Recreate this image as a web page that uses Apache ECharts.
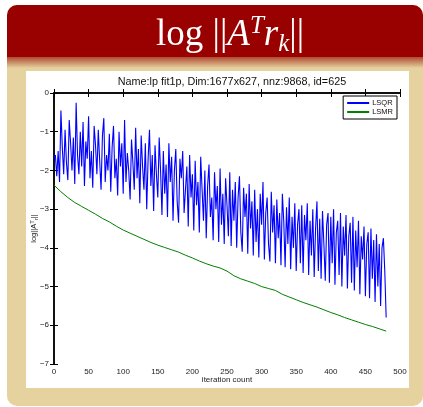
<!DOCTYPE html>
<html>
<head>
    <meta charset="utf-8">
    <title>log ||A^T r_k||</title>
    <script src="https://cdn.jsdelivr.net/npm/echarts@6/dist/echarts.min.js"></script>
    <style>
        html, body { margin: 0; padding: 0; background: #fff; }
    </style>
</head>
<body>
<div id="main" style="width: 423px;height:407px;"></div>

<script type="text/javascript">
    // LSQR: one value every 2 iterations, 0..480 (20 per row = 40 iterations)
    var lsqrStep = 2;
    var lsqr = [
        -1.7, -1.6, -2.15, -1.5, -2.3, -0.45, -1.4, -2.1, -0.95, -1.8, -2.25, -0.7, -1.3, -2.0, -1.15, -2.35, -0.25, -1.6, -2.1, -1.0,
        -1.9, -0.75, -2.4, -1.25, -1.7, -0.6, -2.2, -1.5, -2.45, -0.85, -1.35, -2.1, -0.95, -1.75, -2.5, -1.1, -0.65, -2.3, -1.6, -2.0,
        -1.05, -2.55, -1.4, -0.85, -2.2, -1.7, -2.65, -1.0, -1.9, -1.3, -2.6, -0.7, -2.3, -1.55, -2.0, -2.75, -1.2, -1.8, -2.5, -0.9,
        -2.2, -1.45, -2.85, -1.1, -1.9, -2.5, -1.3, -3.0, -1.7, -0.95, -2.4, -1.6, -3.05, -1.35, -2.1, -2.7, -1.15, -2.0, -3.15, -1.5,
        -2.6, -1.85, -3.2, -1.3, -2.3, -1.65, -3.3, -2.0, -1.45, -2.8, -3.35, -1.7, -2.2, -1.5, -3.1, -2.5, -1.9, -3.45, -1.6, -2.7,
        -2.1, -3.55, -1.75, -2.9, -2.3, -3.6, -1.65, -2.5, -3.3, -2.0, -3.75, -2.4, -1.85, -3.2, -2.7, -3.8, -2.05, -3.0, -2.4, -3.85,
        -1.95, -3.4, -2.6, -3.9, -2.2, -2.9, -3.7, -2.05, -3.95, -2.5, -3.3, -2.3, -4.0, -2.7, -2.15, -3.6, -4.1, -2.45, -3.2, -2.6,
        -4.15, -2.35, -3.5, -2.8, -4.2, -2.5, -3.85, -3.0, -4.25, -2.6, -3.4, -2.3, -4.3, -3.1, -2.7, -3.9, -4.35, -2.55, -3.6, -2.9,
        -4.4, -2.75, -3.75, -3.1, -4.45, -2.6, -3.3, -4.5, -2.95, -3.9, -2.7, -4.55, -3.2, -4.0, -2.85, -4.6, -3.4, -3.0, -4.4, -2.9,
        -4.65, -3.15, -3.8, -2.85, -4.7, -3.3, -4.2, -3.0, -4.75, -3.5, -2.8, -4.6, -3.25, -4.8, -3.05, -3.9, -4.85, -3.4, -3.1, -4.9,
        -3.2, -4.4, -3.0, -4.95, -3.6, -3.3, -4.7, -3.1, -5.0, -3.45, -4.2, -3.15, -5.05, -3.7, -3.35, -4.9, -3.2, -5.1, -3.55, -4.5,
        -3.3, -5.2, -3.7, -4.3, -3.45, -5.25, -3.9, -3.6, -5.3, -3.5, -4.8, -3.8, -5.4, -3.65, -5.0, -3.9, -5.5, -4.0, -3.75, -4.6,
        -5.8
    ];

    // LSMR: one value every 10 iterations (0..480)
    var lsmrStep = 10;
    var lsmr = [
        -2.38, -2.55, -2.70, -2.83, -2.93, -3.03, -3.13, -3.24, -3.33, -3.44,
        -3.54, -3.62, -3.70, -3.78, -3.86, -3.93, -3.99, -4.05, -4.11, -4.19,
        -4.26, -4.34, -4.41, -4.47, -4.52, -4.60, -4.72, -4.80, -4.86, -4.92,
        -5.00, -5.05, -5.10, -5.20, -5.27, -5.34, -5.41, -5.47, -5.53, -5.60,
        -5.67, -5.73, -5.80, -5.86, -5.92, -5.98, -6.03, -6.09, -6.15
    ];

    var xTicks = [0, 50, 100, 150, 200, 250, 300, 350, 400, 450, 500];
    var yTicks = [0, -1, -2, -3, -4, -5, -6, -7];

    function pairs(arr, step) {
        return arr.map(function (v, i) { return [i * step, v]; });
    }
    function minus(v) {
        return String(v).replace('-', '\u2212');
    }

    var myChart = echarts.init(document.getElementById('main'));

    var axisLine = { show: true, lineStyle: { color: '#000', width: 1.5 } };
    var axisTick = { show: true, inside: true, length: 4, lineStyle: { color: '#000', width: 1 } };
    var labelFont = { color: '#222', fontSize: 8, fontFamily: 'Liberation Sans' };
    var serif = 'Liberation Serif';

    myChart.setOption({
        animation: false,
        backgroundColor: '#fff',
        graphic: [
            // slide box
            { type: 'rect', z: -10, shape: { x: 7, y: 5, width: 416, height: 401, r: 10 },
              style: { fill: '#e5d29e' } },
            { type: 'rect', z: -9, shape: { x: 7, y: 5, width: 416, height: 52, r: [10, 10, 0, 0] },
              style: { fill: '#990000' } },
            { type: 'rect', z: -9, shape: { x: 7, y: 57, width: 416, height: 11 },
              style: { fill: new echarts.graphic.LinearGradient(0, 0, 0, 1, [
                  { offset: 0, color: '#b04a32' }, { offset: 1, color: '#e5d29e' }]) } },
            // figure panel
            { type: 'rect', z: -8, shape: { x: 26, y: 71, width: 383, height: 317 },
              style: { fill: '#fff' } },
            // header
            { type: 'text', z: 5, left: 156, top: 14,
              style: {
                  text: 'log ||{it|A}{sup|T}{it|r}{sub|k}||',
                  fill: '#fff', fontSize: 37, fontFamily: serif,
                  rich: {
                      it: { fontStyle: 'italic', fontSize: 37, fontFamily: serif, fill: '#fff' },
                      sup: { fontStyle: 'italic', fontSize: 25, fontFamily: serif, fill: '#fff',
                             verticalAlign: 'top', padding: [0, 0, 18, 0] },
                      sub: { fontStyle: 'italic', fontSize: 25, fontFamily: serif, fill: '#fff',
                             verticalAlign: 'bottom', padding: [14, 0, 0, 0] }
                  }
              } }
        ],
        title: {
            text: 'Name:lp fit1p, Dim:1677x627, nnz:9868, id=625',
            left: 227, top: 72, textAlign: 'center',
            textStyle: { fontSize: 10.8, fontWeight: 'normal', color: '#111', fontFamily: 'Liberation Sans' }
        },
        legend: {
            orient: 'vertical',
            right: 26, top: 96,
            padding: [3, 4, 3, 4],
            itemGap: 1,
            itemWidth: 22, itemHeight: 2,
            icon: 'rect',
            borderColor: '#000', borderWidth: 1,
            backgroundColor: '#fff',
            textStyle: { fontSize: 7.5, color: '#111', fontFamily: 'Liberation Sans', padding: [0, 0, 0, -2] },
            data: ['LSQR', 'LSMR']
        },
        grid: { left: 54, top: 93, right: 23, bottom: 43 },
        xAxis: [{
            type: 'value', min: 0, max: 500, interval: 50,
            position: 'bottom',
            name: 'iteration count', nameLocation: 'middle', nameGap: 12, nameMoveOverlap: false,
            nameTextStyle: { fontSize: 8, color: '#222', fontFamily: 'Liberation Sans' },
            axisLine: axisLine, axisTick: axisTick,
            axisLabel: Object.assign({ margin: 4, customValues: xTicks }, labelFont),
            splitLine: { show: false }
        }, {
            type: 'value', min: 0, max: 500, interval: 50,
            position: 'top',
            axisLine: axisLine, axisTick: axisTick,
            axisLabel: { show: false }, splitLine: { show: false }
        }],
        yAxis: [{
            type: 'value', min: -7, max: 0, interval: 1,
            position: 'left',
            name: 'log||A{sup|T}{sub|r}||', nameLocation: 'middle', nameGap: 15, nameMoveOverlap: false,
            nameTextStyle: {
                fontSize: 7.5, color: '#222', fontFamily: 'Liberation Sans',
                rich: {
                    sup: { fontSize: 6, color: '#222', fontFamily: 'Liberation Sans', verticalAlign: 'top', padding: [0, 0, 4, 0] },
                    sub: { fontSize: 6, color: '#222', fontFamily: 'Liberation Sans', verticalAlign: 'bottom', padding: [4, 0, 0, 0] }
                }
            },
            axisLine: axisLine, axisTick: axisTick,
            axisLabel: Object.assign({ margin: 5, formatter: minus, customValues: yTicks }, labelFont),
            splitLine: { show: false }
        }, {
            type: 'value', min: -7, max: 0, interval: 1,
            position: 'right',
            axisLine: axisLine, axisTick: axisTick,
            axisLabel: { show: false }, splitLine: { show: false }
        }],
        series: [{
            name: 'LSQR',
            type: 'line',
            showSymbol: false, symbol: 'none',
            itemStyle: { color: '#0000ff' },
            lineStyle: { color: '#0000ff', width: 1.1 },
            data: pairs(lsqr, lsqrStep)
        }, {
            name: 'LSMR',
            type: 'line',
            showSymbol: false, symbol: 'none',
            itemStyle: { color: '#007f00' },
            lineStyle: { color: '#007f00', width: 1 },
            data: pairs(lsmr, lsmrStep)
        }]
    });
</script>

</body>
</html>
